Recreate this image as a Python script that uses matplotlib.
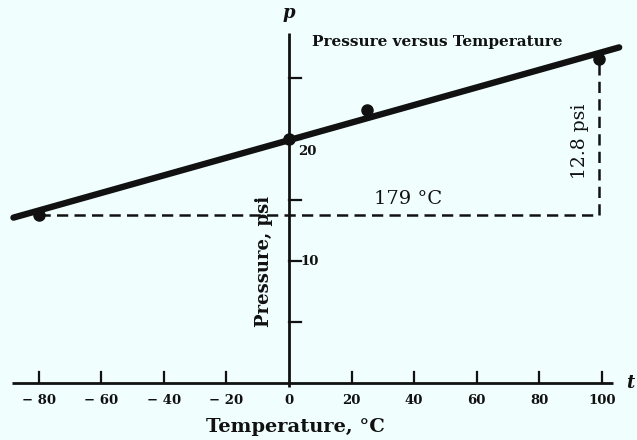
import matplotlib.pyplot as plt
import numpy as np

# measured gas pressure at four temperatures
temps = np.array([-80.0, 0.0, 25.0, 99.0])       # °C
pressures = np.array([13.8, 20.0, 22.4, 26.6])   # psi

x_ticks = [-80, -60, -40, -20, 20, 40, 60, 80, 100]
y_ticks = [5, 10, 15, 20, 25]
y_labeled = [10, 20]

bg = '#f0fefe'
ink = '#111111'

fig = plt.figure(figsize=(6.37, 4.40), dpi=100, facecolor=bg)
ax = fig.add_axes([0, 0, 1, 1])
ax.set_facecolor(bg)
ax.set_xlim(-92.3, 111.2)
ax.set_ylim(-4.67, 31.4)
ax.axis('off')

serif = 'DejaVu Serif'

# axes drawn by hand, crossing at the origin
ax.plot([-88.5, 103.5], [0, 0], color=ink, lw=2.0, solid_capstyle='butt')
ax.plot([0, 0], [-0.3, 28.7], color=ink, lw=2.0, solid_capstyle='butt')
ax.text(109.0, 0, 't', fontsize=13, fontstyle='italic', fontweight='bold',
        family=serif, ha='center', va='center', color=ink)
ax.text(0, 30.3, 'p', fontsize=13, fontstyle='italic', fontweight='bold',
        family=serif, ha='center', va='center', color=ink)

# tick marks
for t in x_ticks:
    ax.plot([t, t], [0, 0.9], color=ink, lw=1.6)
    lab = f'− {abs(t)}' if t < 0 else f'{t}'
    ax.text(t, -1.4, lab, fontsize=9.5, fontweight='bold', family=serif,
            ha='center', va='center', color=ink)
ax.text(0, -1.4, '0', fontsize=9.5, fontweight='bold', family=serif,
        ha='center', va='center', color=ink)
for p in y_ticks:
    ax.plot([0, 4.0], [p, p], color=ink, lw=1.6)
ax.text(3.6, y_labeled[0], f'{y_labeled[0]}', fontsize=9.5, fontweight='bold',
        family=serif, ha='left', va='center', color=ink)
ax.text(3.0, y_labeled[1] - 1.0, f'{y_labeled[1]}', fontsize=9.5,
        fontweight='bold', family=serif, ha='left', va='center', color=ink)

# best straight line through the points
slope, intercept = np.polyfit(temps, pressures, 1)
t_line = np.array([-88.0, 105.5])
ax.plot(t_line, intercept + slope * t_line, color=ink, lw=4.6,
        solid_capstyle='round')
ax.plot(temps, pressures, 'o', color=ink, ms=8)

# rise / run construction between the extreme points
t_lo, t_hi = temps[0], temps[-1]
p_lo, p_hi = pressures[0], pressures[-1]
ax.plot([t_lo, t_hi, t_hi], [p_lo, p_lo, p_hi], color=ink, lw=1.8,
        dashes=(4.5, 2.5))
ax.text(38, 15.1, f'{t_hi - t_lo:.0f} °C', fontsize=14, family=serif,
        ha='center', va='center', color=ink)
ax.text(93.0, 19.8, f'{p_hi - p_lo:.1f} psi', fontsize=13.5, family=serif,
        rotation=90, ha='center', va='center', color=ink)

ax.text(-8.0, 10.0, 'Pressure, psi', fontsize=13, family=serif,
        fontweight='bold', rotation=90, ha='center', va='center', color=ink)
ax.text(2.0, -3.6, 'Temperature, °C', fontsize=14, family=serif,
        fontweight='bold', ha='center', va='center', color=ink)
ax.text(47.3, 27.95, 'Pressure versus Temperature', fontsize=11, family=serif,
        fontweight='bold', ha='center', va='center', color=ink)

fig.savefig('out.png', dpi=100, facecolor=bg)
